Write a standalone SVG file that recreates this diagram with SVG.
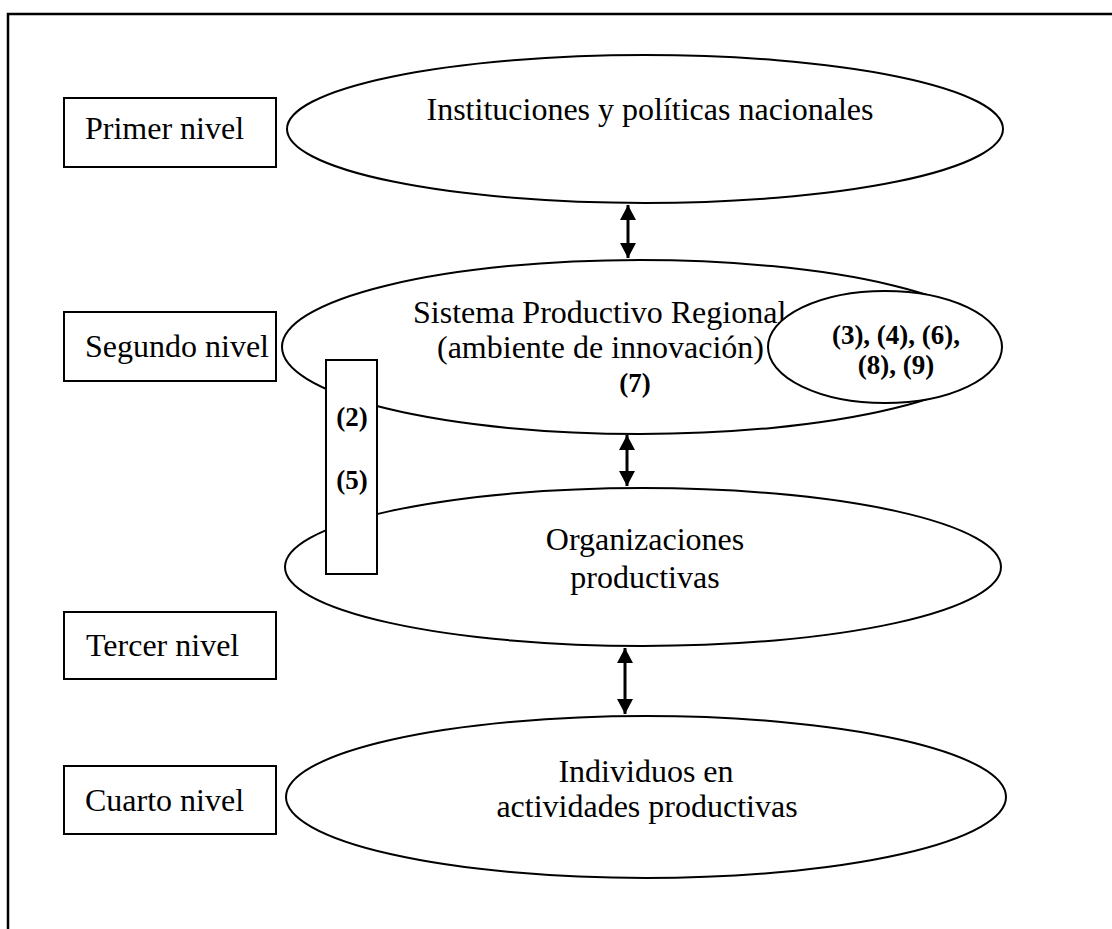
<svg xmlns="http://www.w3.org/2000/svg" width="1112" height="929" viewBox="0 0 1112 929">
<style>
.sh{fill:#fff;stroke:#000;stroke-width:2}
.t{font-family:"Liberation Serif","Times New Roman",serif;font-size:32px;fill:#000}
.b{font-family:"Liberation Serif","Times New Roman",serif;font-size:27px;font-weight:bold;fill:#000}
.ar{stroke:#000;stroke-width:3;fill:none;marker-start:url(#ah);marker-end:url(#ah)}
</style>
<defs>
<marker id="ah" markerUnits="userSpaceOnUse" markerWidth="16" markerHeight="16" refX="15" refY="8" orient="auto-start-reverse">
<path d="M0,0 L15,8 L0,16 Z" fill="#000"/>
</marker>
</defs>
<rect width="1112" height="929" fill="#fff"/>
<path d="M8,929 V14 H1112" fill="none" stroke="#000" stroke-width="2.5"/>
<g id="connectors">
<line class="ar" x1="628" y1="205" x2="628" y2="258"/>
<line class="ar" x1="627" y1="435" x2="627" y2="486"/>
<line class="ar" x1="625" y1="648" x2="625" y2="714"/>
</g>
<g id="label1"><rect class="sh" x="64" y="98" width="212" height="69"/><text class="t" x="85" y="139">Primer nivel</text></g>
<g id="label2"><rect class="sh" x="64" y="312" width="212" height="69"/><text class="t" x="85" y="357">Segundo nivel</text></g>
<g id="label3"><rect class="sh" x="64" y="612" width="212" height="67"/><text class="t" x="86" y="656">Tercer nivel</text></g>
<g id="label4"><rect class="sh" x="64" y="766" width="212" height="68"/><text class="t" x="85" y="811">Cuarto nivel</text></g>
<g id="n1"><ellipse class="sh" cx="645" cy="129" rx="358" ry="74"/><text class="t" x="650" y="120" text-anchor="middle">Instituciones y políticas nacionales</text></g>
<g id="n2"><ellipse class="sh" cx="640" cy="347" rx="358" ry="87"/>
<text class="t" x="413" y="323">Sistema Productivo Regional</text>
<text class="t" x="437" y="358">(ambiente de innovación)</text>
<text class="b" x="635" y="392" text-anchor="middle">(7)</text></g>
<g id="n2b"><ellipse class="sh" cx="885" cy="347" rx="117" ry="56"/>
<text class="b" x="896" y="344" text-anchor="middle">(3), (4), (6),</text>
<text class="b" x="896" y="374" text-anchor="middle">(8), (9)</text></g>
<g id="n3"><ellipse class="sh" cx="643" cy="567" rx="358" ry="79"/>
<text class="t" x="645" y="550" text-anchor="middle">Organizaciones</text>
<text class="t" x="645" y="588" text-anchor="middle">productivas</text></g>
<g id="n4"><ellipse class="sh" cx="646" cy="797" rx="360" ry="81"/>
<text class="t" x="646" y="782" text-anchor="middle">Individuos en</text>
<text class="t" x="647" y="817" text-anchor="middle">actividades productivas</text></g>
<g id="n5"><rect class="sh" x="326" y="360" width="51" height="214"/>
<text class="b" x="352" y="426" text-anchor="middle">(2)</text>
<text class="b" x="352" y="489" text-anchor="middle">(5)</text></g>
</svg>
